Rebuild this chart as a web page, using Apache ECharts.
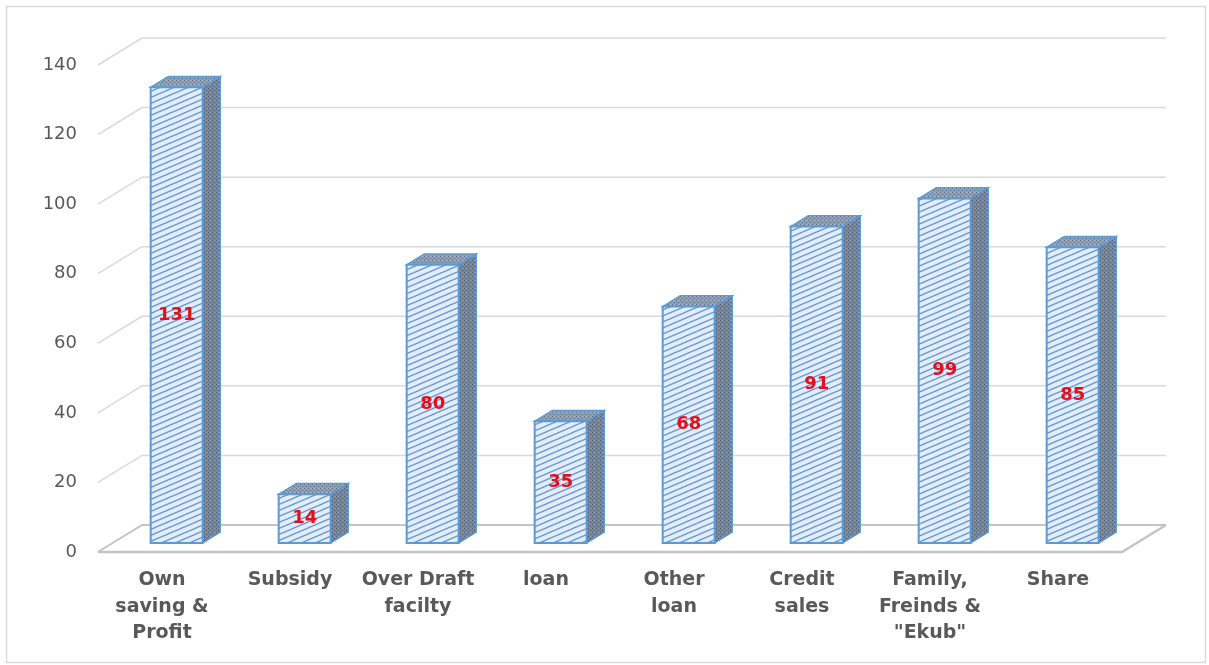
<!DOCTYPE html>
<html>
<head>
<meta charset="utf-8">
<script src="https://cdn.jsdelivr.net/npm/echarts@6/dist/echarts.min.js"></script>
<style>
  html, body { margin: 0; padding: 0; background: #ffffff; }
  #chart { width: 1209px; height: 665px; }
</style>
</head>
<body>
<div id="chart"></div>
<script>
// Sources of finance
const categories = [
  'Own\nsaving &\nProfit',
  'Subsidy',
  'Over Draft\nfacilty',
  'loan',
  'Other\nloan',
  'Credit\nsales',
  'Family,\nFreinds &\n"Ekub"',
  'Share'
];
const values = [131, 14, 80, 35, 68, 91, 99, 85];
const yTicks = [0, 20, 40, 60, 80, 100, 120, 140];

// 3D projection: how far the back wall sits from the front plane (px)
const DEPTH_X = 44;
const DEPTH_Y = -27;
// bars stand from 1/3 of the depth, and are 0.4 of the depth thick
const BAR_FRONT = 1 / 3;
const BAR_DEPTH = 0.4;
const BAR_WIDTH = 52;

function makePattern(w, h, bg, draw) {
  const c = document.createElement('canvas');
  c.width = w; c.height = h;
  const ctx = c.getContext('2d');
  ctx.fillStyle = bg;
  ctx.fillRect(0, 0, w, h);
  draw(ctx, w, h);
  return { image: c, repeat: 'repeat' };
}

// front face: shallow upward diagonal hatch on pale blue
const frontPattern = makePattern(14, 6, '#e2edf9', function (ctx, w, h) {
  ctx.strokeStyle = '#5f94d0';
  ctx.lineWidth = 1.2;
  for (let k = -1; k <= 1; k++) {
    ctx.beginPath();
    ctx.moveTo(-w + k * w, 2 * h);
    ctx.lineTo(2 * w + k * w, -h);
    ctx.stroke();
  }
});
// side face: dark dotted grey-blue
const sidePattern = makePattern(4, 4, '#76869b', function (ctx) {
  ctx.fillStyle = '#4d5b70';
  ctx.fillRect(0, 0, 1, 1);
  ctx.fillRect(2, 2, 1, 1);
  ctx.fillStyle = '#9aa7b8';
  ctx.fillRect(2, 0, 1, 1);
});
// top face: lighter dotted grey-blue
const topPattern = makePattern(4, 4, '#8d9db2', function (ctx) {
  ctx.fillStyle = '#5f6f86';
  ctx.fillRect(0, 0, 1, 1);
  ctx.fillRect(2, 2, 1, 1);
  ctx.fillStyle = '#b3bfce';
  ctx.fillRect(2, 0, 1, 1);
});

function renderWalls(params, api) {
  const cs = params.coordSys;
  const v = api.value(0);
  const yf = api.coord([0, v])[1];
  const x0 = cs.x;
  const x1 = cs.x + cs.width;
  const children = [];
  children.push({
    type: 'polyline',
    shape: { points: [[x0, yf], [x0 + DEPTH_X, yf + DEPTH_Y], [x1 + DEPTH_X, yf + DEPTH_Y]] },
    style: { stroke: v === 0 ? '#c4c4c4' : '#d9d9d9', lineWidth: v === 0 ? 2 : 1.5, fill: null }
  });
  if (v === 0) {
    children.push({
      type: 'polyline',
      shape: { points: [[x0, yf], [x1, yf], [x1 + DEPTH_X, yf + DEPTH_Y]] },
      style: { stroke: '#c4c4c4', lineWidth: 2.5, fill: null }
    });
  }
  return { type: 'group', children: children };
}

function renderBars(params, api) {
  const cat = api.value(0);
  const val = api.value(1);
  const base = api.coord([cat, 0]);
  const top = api.coord([cat, val]);
  const fx = DEPTH_X * BAR_FRONT, fy = DEPTH_Y * BAR_FRONT;
  const dx = DEPTH_X * BAR_DEPTH, dy = DEPTH_Y * BAR_DEPTH;
  const xl = base[0] + fx - BAR_WIDTH / 2;
  const xr = xl + BAR_WIDTH;
  const yb = base[1] + fy;
  const yt = top[1] + fy;
  const edge = '#5b9bd5';
  return {
    type: 'group',
    children: [
      {
        type: 'polygon',
        shape: { points: [[xr, yt], [xr + dx, yt + dy], [xr + dx, yb + dy], [xr, yb]] },
        style: { fill: sidePattern, stroke: edge, lineWidth: 1.4 }
      },
      {
        type: 'polygon',
        shape: { points: [[xl, yt], [xr, yt], [xr + dx, yt + dy], [xl + dx, yt + dy]] },
        style: { fill: topPattern, stroke: edge, lineWidth: 1.4 }
      },
      {
        type: 'rect',
        shape: { x: xl, y: yt, width: BAR_WIDTH, height: yb - yt },
        style: { fill: frontPattern, stroke: edge, lineWidth: 2 }
      },
      {
        type: 'text',
        x: (xl + xr) / 2,
        y: (yt + yb) / 2,
        style: {
          text: String(val),
          fill: '#e3101b',
          font: 'bold 18px "DejaVu Sans", sans-serif',
          align: 'center',
          verticalAlign: 'middle'
        }
      }
    ]
  };
}

const chart = echarts.init(document.getElementById('chart'), null, { renderer: 'canvas' });
chart.setOption({
  backgroundColor: '#ffffff',
  animation: false,
  graphic: [{
    type: 'rect',
    shape: { x: 6.5, y: 6.5, width: 1199, height: 656 },
    style: { fill: null, stroke: '#d9d9d9', lineWidth: 1.5 },
    silent: true
  }],
  grid: { left: 98, right: 87, top: 65, bottom: 113 },
  xAxis: {
    type: 'category',
    data: categories,
    axisLine: { show: false },
    axisTick: { show: false },
    axisLabel: {
      interval: 0,
      margin: 15,
      color: '#595959',
      fontFamily: 'DejaVu Sans',
      fontWeight: 'bold',
      fontSize: 19,
      lineHeight: 26.5
    }
  },
  yAxis: {
    type: 'value',
    min: 0,
    max: 140,
    interval: 20,
    axisLine: { show: false },
    axisTick: { show: false },
    splitLine: { show: false },
    axisLabel: {
      margin: 21,
      color: '#595959',
      fontFamily: 'DejaVu Sans',
      fontSize: 18
    }
  },
  series: [
    {
      type: 'custom',
      name: 'walls',
      silent: true,
      z: 1,
      renderItem: renderWalls,
      data: yTicks.map(function (t) { return [t]; }),
      encode: { y: 0 }
    },
    {
      type: 'custom',
      name: 'Sources',
      z: 3,
      renderItem: renderBars,
      data: values.map(function (v, i) { return [i, v]; }),
      encode: { x: 0, y: 1 }
    }
  ]
});
</script>
</body>
</html>
